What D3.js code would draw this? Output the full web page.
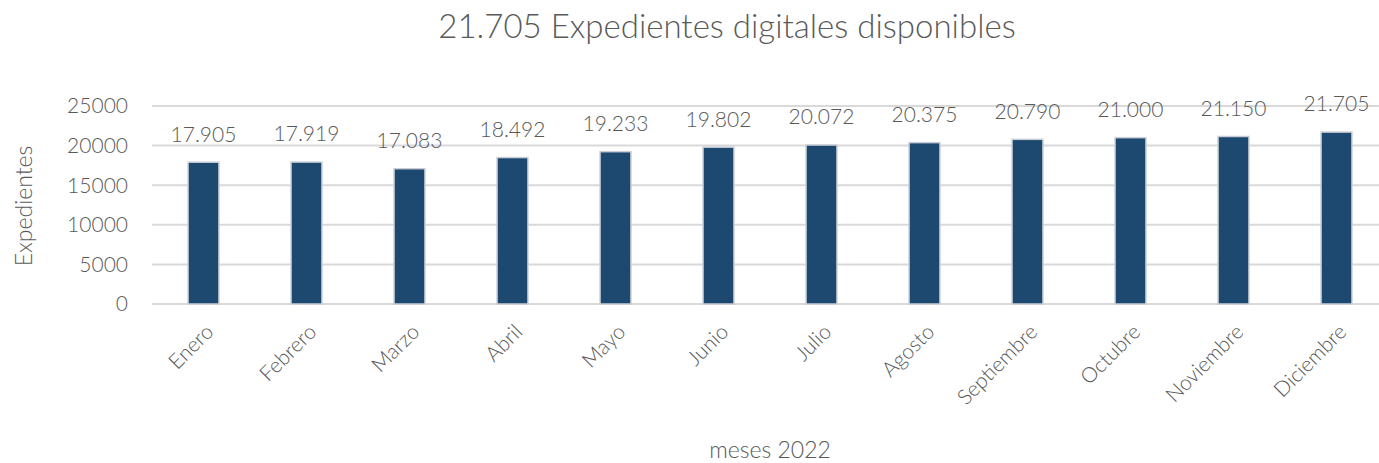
<!DOCTYPE html>
<html>
<head>
<meta charset="utf-8">
<script src="https://cdn.jsdelivr.net/npm/d3@7"></script>
<style>
  body { margin: 0; background: #fff; }
  text { font-family: Lato, "Open Sans", sans-serif; font-weight: 300; fill: #595959; }
</style>
</head>
<body>
<div id="chart-area"></div>
<script>
// months of 2022 and digital files available
var meses = ["Enero", "Febrero", "Marzo", "Abril", "Mayo", "Junio", "Julio", "Agosto",
             "Septiembre", "Octubre", "Noviembre", "Diciembre"];
var expedientes = [17905, 17919, 17083, 18492, 19233, 19802, 20072, 20375, 20790, 21000, 21150, 21705];
var yTicks = [0, 5000, 10000, 15000, 20000, 25000];

var width = 1379, height = 463;
var margin = {top: 106, right: -9, bottom: 159, left: 152};

var svg = d3.select("#chart-area").append("svg")
    .attr("width", width)
    .attr("height", height);

var x = d3.scaleBand()
    .domain(meses)
    .range([margin.left, width - margin.right])
    .paddingInner(0.7)
    .paddingOuter(0.35);

var y = d3.scaleLinear()
    .domain([0, 25000])
    .range([height - margin.bottom, margin.top]);

// gridlines
svg.selectAll("line.grid")
    .data(yTicks)
    .enter().append("line")
    .attr("class", "grid")
    .attr("x1", margin.left)
    .attr("x2", width)
    .attr("y1", function(d) { return y(d); })
    .attr("y2", function(d) { return y(d); })
    .attr("stroke", "#d9d9d9")
    .attr("stroke-width", 2);

// y tick labels
svg.selectAll("text.ytick")
    .data(yTicks)
    .enter().append("text")
    .attr("class", "ytick")
    .attr("x", 128)
    .attr("y", function(d) { return y(d); })
    .attr("dy", "0.35em")
    .attr("text-anchor", "end")
    .style("font-size", "21px")
    .text(function(d) { return d; });

// bars
svg.selectAll("rect.bar")
    .data(expedientes)
    .enter().append("rect")
    .attr("class", "bar")
    .attr("x", function(d, i) { return x(meses[i]); })
    .attr("y", function(d) { return y(d); })
    .attr("width", x.bandwidth())
    .attr("height", function(d) { return y(0) - y(d); })
    .attr("fill", "#1d4870")
    .attr("stroke", "#c9ced6")
    .attr("stroke-width", 1.5);

// value labels
var fmt = d3.formatLocale({decimal: ",", thousands: ".", grouping: [3]}).format(",d");
svg.selectAll("text.val")
    .data(expedientes)
    .enter().append("text")
    .attr("class", "val")
    .attr("x", function(d, i) { return x(meses[i]) + x.bandwidth() / 2; })
    .attr("y", function(d) { return y(d) - 28; })
    .attr("dy", "0.35em")
    .attr("text-anchor", "middle")
    .style("font-size", "21px")
    .text(function(d) { return fmt(d); });

// month labels, rotated
svg.selectAll("text.mes")
    .data(meses)
    .enter().append("text")
    .attr("class", "mes")
    .attr("transform", function(d) {
        return "translate(" + (x(d) + x.bandwidth() / 2 + 6) + "," + 328 + ") rotate(-45)";
    })
    .attr("text-anchor", "end")
    .attr("dy", "0.35em")
    .style("font-size", "21px")
    .text(function(d) { return d; });

// title
svg.append("text")
    .attr("x", 727)
    .attr("y", 26)
    .attr("dy", "0.35em")
    .attr("text-anchor", "middle")
    .style("font-size", "33px")
    .text("21.705 Expedientes digitales disponibles");

// axis titles
svg.append("text")
    .attr("transform", "translate(24," + 206 + ") rotate(-90)")
    .attr("dy", "0.35em")
    .attr("text-anchor", "middle")
    .style("font-size", "23px")
    .text("Expedientes");

svg.append("text")
    .attr("x", 770)
    .attr("y", 450)
    .attr("dy", "0.35em")
    .attr("text-anchor", "middle")
    .style("font-size", "23px")
    .text("meses 2022");
</script>
</body>
</html>
